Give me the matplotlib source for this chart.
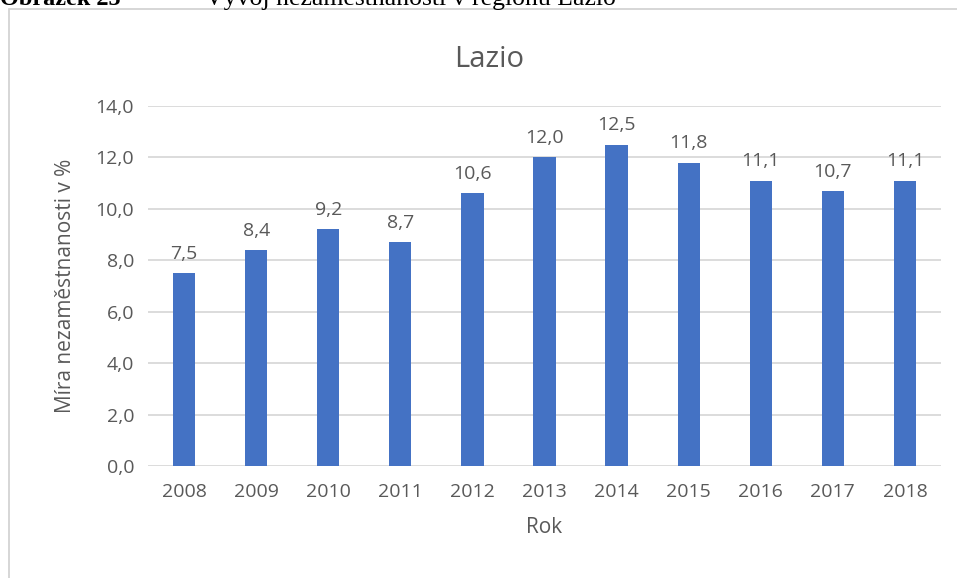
import matplotlib.pyplot as plt
from matplotlib.patches import Rectangle

# data
roky = ['2008', '2009', '2010', '2011', '2012', '2013', '2014', '2015', '2016', '2017', '2018']
mira = [7.5, 8.4, 9.2, 8.7, 10.6, 12.0, 12.5, 11.8, 11.1, 10.7, 11.1]
yticks = [0, 2, 4, 6, 8, 10, 12, 14]

seda = '#595959'
modra = '#4472C4'

plt.rcParams['font.family'] = ['Open Sans', 'DejaVu Sans']

fig = plt.figure(figsize=(9.57, 5.78), dpi=100)
ax = fig.add_axes([148/957, 112/578, 793/957, 360/578])

# chart frame (cut by the image edges)
fig.patches.append(Rectangle((9/957, -0.05), 1.0, 1 - 9/578 + 0.05, transform=fig.transFigure,
                             fill=False, edgecolor='#D0D0D0', lw=1.2))

# caption above the chart, mostly cut off
fig.text(0.0, 1 - 5/578, 'Obrázek 25', family='Liberation Serif', fontsize=17.5,
         fontweight='bold', va='baseline', color='black')
fig.text(205/957, 1 - 5/578, 'Vývoj nezaměstnanosti v regionu Lazio', family='Liberation Serif',
         fontsize=18.5, va='baseline', color='black')

x = range(len(roky))
bars = ax.bar(x, mira, width=0.31, color=modra, zorder=3)
for xi, v in zip(x, mira):
    ax.text(xi, v + 0.4, f'{v:.1f}'.replace('.', ','), ha='center', va='bottom',
            fontsize=14, color=seda)

ax.set_xlim(-0.5, len(roky) - 0.5)
ax.set_ylim(0, 14)
ax.set_yticks(yticks)
ax.set_yticklabels([f'{t:.1f}'.replace('.', ',') for t in yticks])
ax.set_xticks(list(x))
ax.set_xticklabels(roky)
ax.grid(axis='y', color='#D9D9D9', lw=1.3, zorder=0)
for s in ax.spines.values():
    s.set_visible(False)
ax.tick_params(length=0, labelsize=14, labelcolor=seda, pad=10)
ax.tick_params(axis='x', pad=12)

ax.set_title('Lazio', fontsize=21, color=seda, pad=28, x=(489 - 148) / 793)
ax.set_ylabel('Míra nezaměstnanosti v %', fontsize=15, color=seda, labelpad=14)
ax.set_xlabel('Rok', fontsize=15, color=seda, labelpad=12)

fig.savefig('out.png', dpi=100)
